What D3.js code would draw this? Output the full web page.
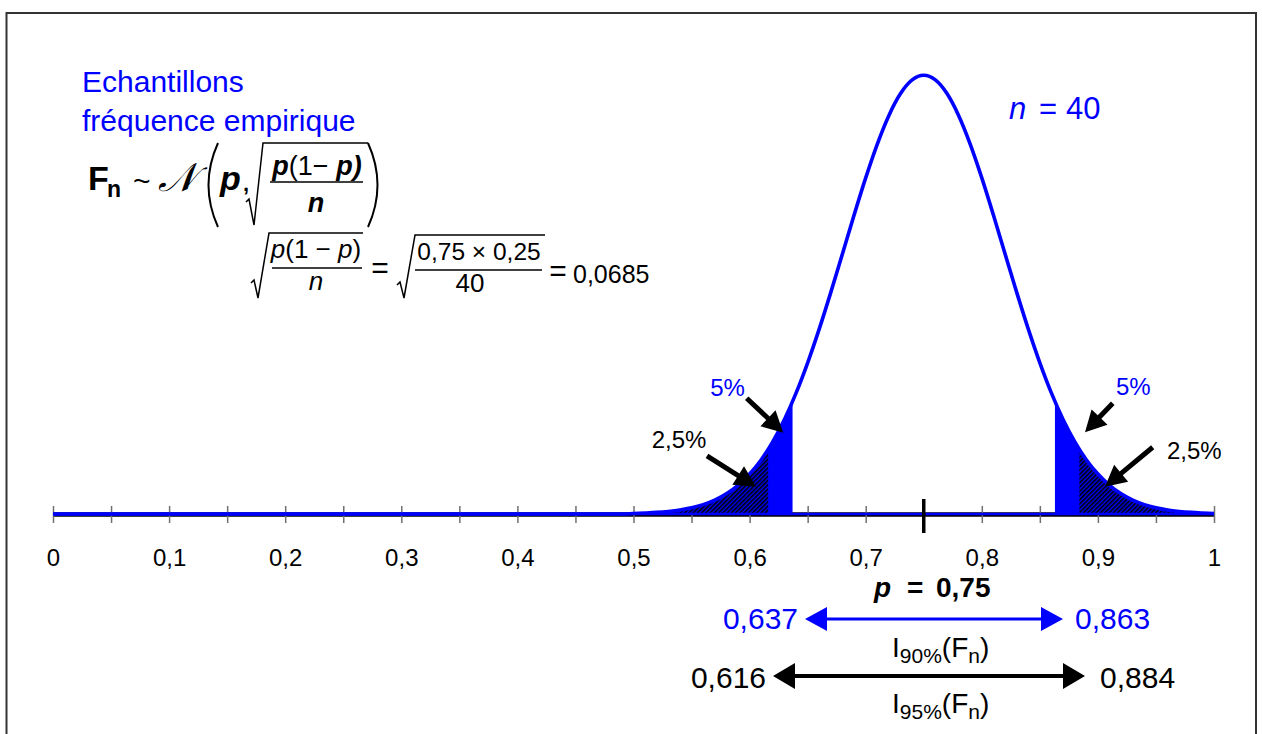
<!DOCTYPE html>
<html>
<head>
<meta charset="utf-8">
<script src="https://cdn.jsdelivr.net/npm/d3@7"></script>
<style>
  body { margin: 0; background: #fff; }
  text { font-family: "Liberation Sans", Arial, sans-serif; }
</style>
</head>
<body>
<div id="chart"></div>
<script>
// DATA

// density of F_n ~ N(0.75, 0.0685)
const curveX = [0, 0.49,
  0.50, 0.51, 0.52, 0.53, 0.54, 0.55, 0.56, 0.57, 0.58, 0.59,
  0.60, 0.61, 0.62, 0.63, 0.64, 0.65, 0.66, 0.67, 0.68, 0.69,
  0.70, 0.71, 0.72, 0.73, 0.74, 0.75, 0.76, 0.77, 0.78, 0.79,
  0.80, 0.81, 0.82, 0.83, 0.84, 0.85, 0.86, 0.87, 0.88, 0.89,
  0.90, 0.91, 0.92, 0.93, 0.94, 0.95, 0.96, 0.97, 0.98, 0.99, 1.00];
const density = [0, 0,
  0.007, 0.013, 0.021, 0.034, 0.053, 0.082, 0.124, 0.184, 0.268, 0.381,
  0.530, 0.721, 0.962, 1.255, 1.604, 2.007, 2.457, 2.945, 3.455, 3.969,
  4.462, 4.911, 5.291, 5.581, 5.762, 5.824, 5.762, 5.581, 5.291, 4.911,
  4.462, 3.969, 3.455, 2.945, 2.457, 2.007, 1.604, 1.255, 0.962, 0.721,
  0.530, 0.381, 0.268, 0.184, 0.124, 0.082, 0.053, 0.034, 0.021, 0.013, 0.007];

const pMean = 0.75;
const nSize = 40;
const minorTicks = [0, 0.05, 0.1, 0.15, 0.2, 0.25, 0.3, 0.35, 0.4, 0.45, 0.5,
  0.55, 0.6, 0.65, 0.7, 0.75, 0.8, 0.85, 0.9, 0.95, 1];
const majorTicks = [0, 0.1, 0.2, 0.3, 0.4, 0.5, 0.6, 0.7, 0.8, 0.9, 1];

// confidence intervals: [low, high]
const ci90 = [0.637, 0.863];
const ci95 = [0.616, 0.884];

// SETUP

var width = 1262;
var height = 734;
var blue = '#0000ff';
var baseY = 514;

var svg = d3.select('#chart')
  .append('svg')
    .attr('width', width)
    .attr('height', height);

// frame
svg.append('rect')
    .attr('x', 6.5)
    .attr('y', 13)
    .attr('width', 1249.5)
    .attr('height', 740)
    .style('fill', 'none')
    .style('stroke', '#333')
    .style('stroke-width', 2);

var x = d3.scaleLinear().domain([0, 1]).range([53, 1214]);
var y = d3.scaleLinear().domain([0, 6]).range([baseY, 62]);

var fmt = d3.formatLocale({decimal: ',', thousands: ' ', grouping: [3], currency: ['', '']}).format('~g');

// hatch pattern for 2,5% tails
var defs = svg.append('defs');
var pat = defs.append('pattern')
    .attr('id', 'hatch')
    .attr('patternUnits', 'userSpaceOnUse')
    .attr('width', 3)
    .attr('height', 3)
    .attr('patternTransform', 'rotate(45)');
pat.append('rect').attr('width', 3).attr('height', 3).style('fill', blue);
pat.append('line')
    .attr('x1', 0.8).attr('y1', 0).attr('x2', 0.8).attr('y2', 3)
    .style('stroke', '#000')
    .style('stroke-width', 1.6);

function addClip(id, ranges) {
  var cp = defs.append('clipPath').attr('id', id);
  ranges.forEach(function(r) {
    cp.append('rect')
        .attr('x', x(r[0]))
        .attr('y', 0)
        .attr('width', x(r[1]) - x(r[0]))
        .attr('height', baseY);
  });
}
addClip('clip90', [[0, ci90[0]], [ci90[1], 1]]);
addClip('clip95', [[0, ci95[0]], [ci95[1], 1]]);

var pts = curveX.map(function(d, i) { return [d, density[i]]; });

var area = d3.area()
    .x(function(d) { return x(d[0]); })
    .y0(y(0))
    .y1(function(d) { return y(d[1]); })
    .curve(d3.curveMonotoneX);

var line = d3.line()
    .x(function(d) { return x(d[0]); })
    .y(function(d) { return y(d[1]); })
    .curve(d3.curveMonotoneX);

// AXIS

var tickAxis = svg.append('g')
    .attr('transform', 'translate(0,' + baseY + ')')
    .call(d3.axisBottom(x).tickValues(minorTicks).tickSize(9).tickSizeOuter(0).tickFormat(''));
tickAxis.selectAll('.tick line')
    .attr('y1', -8)
    .attr('y2', 9)
    .style('stroke', '#707070')
    .style('stroke-width', 1.5);
tickAxis.select('.domain')
    .style('stroke', '#000')
    .style('stroke-width', 4.5);

var labelAxis = svg.append('g')
    .attr('transform', 'translate(0,' + baseY + ')')
    .call(d3.axisBottom(x).tickValues(majorTicks).tickSize(0).tickPadding(35).tickFormat(fmt));
labelAxis.select('.domain').remove();
labelAxis.selectAll('text')
    .style('font-family', '"Liberation Sans", Arial, sans-serif')
    .style('font-size', '24px')
    .style('fill', '#000');

// SHADED TAILS

svg.append('path')
    .datum(pts)
    .attr('d', area)
    .attr('clip-path', 'url(#clip90)')
    .style('fill', blue);

svg.append('path')
    .datum(pts)
    .attr('d', area)
    .attr('clip-path', 'url(#clip95)')
    .style('fill', 'url(#hatch)');

// zero line in blue along the axis
svg.append('line')
    .attr('x1', x(0)).attr('x2', x(1))
    .attr('y1', y(0)).attr('y2', y(0))
    .style('stroke', blue)
    .style('stroke-width', 2.5);

svg.append('path')
    .datum(pts)
    .attr('d', line)
    .style('fill', 'none')
    .style('stroke', blue)
    .style('stroke-width', 3.6);

// tick at p
svg.append('line')
    .attr('x1', x(pMean)).attr('x2', x(pMean))
    .attr('y1', baseY - 15).attr('y2', baseY + 19)
    .style('stroke', '#000')
    .style('stroke-width', 3.5);

// ARROWS

function arrowPath(x1, y1, x2, y2, sw, hl, hw) {
  var dx = x2 - x1, dy = y2 - y1;
  var len = Math.sqrt(dx * dx + dy * dy);
  var ux = dx / len, uy = dy / len, nx = -uy, ny = ux;
  var bx = x2 - ux * hl, by = y2 - uy * hl;
  var p = [
    [x1 + nx * sw / 2, y1 + ny * sw / 2],
    [bx + nx * sw / 2, by + ny * sw / 2],
    [bx + nx * hw, by + ny * hw],
    [x2, y2],
    [bx - nx * hw, by - ny * hw],
    [bx - nx * sw / 2, by - ny * sw / 2],
    [x1 - nx * sw / 2, y1 - ny * sw / 2]
  ];
  return 'M' + p.map(function(q) { return q.join(','); }).join('L') + 'Z';
}

function doubleArrow(xa, xb, yy, sw, hl, hw) {
  var p = [
    [xa, yy], [xa + hl, yy - hw], [xa + hl, yy - sw / 2], [xb - hl, yy - sw / 2],
    [xb - hl, yy - hw], [xb, yy], [xb - hl, yy + hw], [xb - hl, yy + sw / 2],
    [xa + hl, yy + sw / 2], [xa + hl, yy + hw]
  ];
  return 'M' + p.map(function(q) { return q.join(','); }).join('L') + 'Z';
}

// tail pointers: [from, to] in data units
var tailArrows = [
  {from: [0.5975, 1.537], to: [0.629, 1.08]},
  {from: [0.5633, 0.770], to: [0.6055, 0.3625]},
  {from: [0.9128, 1.470], to: [0.8889, 1.085]},
  {from: [0.9472, 0.886], to: [0.9061, 0.3625]}
];
svg.selectAll('.tailArrow')
  .data(tailArrows)
  .enter()
  .append('path')
    .attr('class', 'tailArrow')
    .attr('d', function(d) {
      return arrowPath(x(d.from[0]), y(d.from[1]), x(d.to[0]), y(d.to[1]), 5, 21, 11);
    })
    .style('fill', '#000');

var tailLabels = [
  {t: '5%', x: 0.566, y: 1.567, c: blue},
  {t: '2,5%', x: 0.5157, y: 0.876, c: '#000'},
  {t: '5%', x: 0.9156, y: 1.580, c: blue},
  {t: '2,5%', x: 0.9595, y: 0.730, c: '#000'}
];
svg.selectAll('.tailLabel')
  .data(tailLabels)
  .enter()
  .append('text')
    .attr('class', 'tailLabel')
    .attr('x', function(d) { return x(d.x); })
    .attr('y', function(d) { return y(d.y); })
    .style('font-size', '24px')
    .style('fill', function(d) { return d.c; })
    .text(function(d) { return d.t; });

// INTERVALS BELOW AXIS

svg.append('path')
    .attr('d', doubleArrow(805, 1063, 619, 3, 22, 12))
    .style('fill', blue);
svg.append('path')
    .attr('d', doubleArrow(773, 1085, 676, 4, 22, 13))
    .style('fill', '#000');

svg.append('text')
    .attr('x', 798).attr('y', 629)
    .attr('text-anchor', 'end')
    .style('font-size', '30px').style('fill', blue)
    .text(fmt(ci90[0]));
svg.append('text')
    .attr('x', 1075).attr('y', 629)
    .style('font-size', '30px').style('fill', blue)
    .text(fmt(ci90[1]));
svg.append('text')
    .attr('x', 766).attr('y', 688)
    .attr('text-anchor', 'end')
    .style('font-size', '30px').style('fill', '#000')
    .text(fmt(ci95[0]));
svg.append('text')
    .attr('x', 1100).attr('y', 688)
    .style('font-size', '30px').style('fill', '#000')
    .text(fmt(ci95[1]));

function intervalName(level, yy) {
  var t = svg.append('text')
      .attr('x', 892).attr('y', yy)
      .style('font-size', '28px');
  t.append('tspan').text('I');
  t.append('tspan').attr('dy', 6).style('font-size', '21px').text(level);
  t.append('tspan').attr('dy', -6).text('(F');
  t.append('tspan').attr('dy', 6).style('font-size', '21px').text('n');
  t.append('tspan').attr('dy', -6).text(')');
}
intervalName('90%', 657);
intervalName('95%', 713);

var pLabel = svg.append('text')
    .attr('y', 597)
    .style('font-size', '28px')
    .style('font-weight', 'bold');
pLabel.append('tspan').attr('x', 874).style('font-style', 'italic').text('p');
pLabel.append('tspan').attr('x', 907).text('=');
pLabel.append('tspan').attr('x', 936).text(fmt(pMean));

// n = 40
var nLabel = svg.append('text')
    .attr('y', 119)
    .style('font-size', '31px')
    .style('fill', blue);
nLabel.append('tspan').attr('x', 1009).style('font-style', 'italic').text('n');
nLabel.append('tspan').attr('x', 1039).text('=');
nLabel.append('tspan').attr('x', 1066).text(nSize);

// TITLE + FORMULAS

svg.append('text')
    .attr('x', 82).attr('y', 92)
    .style('font-size', '30px').style('fill', blue)
    .text('Echantillons');
svg.append('text')
    .attr('x', 82).attr('y', 131)
    .style('font-size', '30px').style('fill', blue)
    .text('fréquence empirique');

var f1 = svg.append('g');
f1.append('text').attr('x', 88).attr('y', 190)
    .style('font-size', '34px').style('font-weight', 'bold').text('F');
f1.append('text').attr('x', 107).attr('y', 197)
    .style('font-size', '23px').style('font-weight', 'bold').text('n');
f1.append('text').attr('x', 133).attr('y', 191)
    .style('font-size', '30px').text('~');
f1.append('text').attr('x', 158).attr('y', 191)
    .style('font-family', '"DejaVu Serif", serif')
    .style('font-size', '40px').style('font-style', 'italic').text('\u{1D4A9}');
f1.append('path').attr('d', 'M218,143 Q199,185 218,227')
    .style('fill', 'none').style('stroke', '#000').style('stroke-width', 2);
f1.append('path').attr('d', 'M368,143 Q387,185 368,227')
    .style('fill', 'none').style('stroke', '#000').style('stroke-width', 2);
f1.append('text').attr('x', 220).attr('y', 190)
    .style('font-size', '34px').style('font-weight', 'bold').style('font-style', 'italic').text('p');
f1.append('text').attr('x', 243).attr('y', 191)
    .style('font-size', '22px').style('font-weight', 'bold').text(',');
f1.append('path').attr('d', 'M246,202 L249,199 L254,225 L263,143 L368,143')
    .style('fill', 'none').style('stroke', '#000').style('stroke-width', 1.5);
var n1 = f1.append('text').attr('x', 317).attr('y', 175)
    .attr('text-anchor', 'middle').style('font-size', '27px');
n1.append('tspan').style('font-weight', 'bold').style('font-style', 'italic').text('p');
n1.append('tspan').text('(1\u2212 ');
n1.append('tspan').style('font-weight', 'bold').style('font-style', 'italic').text('p)');
f1.append('line').attr('x1', 270).attr('x2', 363).attr('y1', 182).attr('y2', 182)
    .style('stroke', '#000').style('stroke-width', 1.5);
f1.append('text').attr('x', 316).attr('y', 212)
    .attr('text-anchor', 'middle').style('font-size', '27px')
    .style('font-weight', 'bold').style('font-style', 'italic').text('n');

var f2 = svg.append('g');
f2.append('path').attr('d', 'M251,283 L254,280 L258,298 L269,233 L363,233')
    .style('fill', 'none').style('stroke', '#000').style('stroke-width', 1.5);
var n2 = f2.append('text').attr('x', 316).attr('y', 258)
    .attr('text-anchor', 'middle').style('font-size', '26px');
n2.append('tspan').style('font-style', 'italic').text('p');
n2.append('tspan').text('(1 \u2212 ');
n2.append('tspan').style('font-style', 'italic').text('p');
n2.append('tspan').text(')');
f2.append('line').attr('x1', 272).attr('x2', 362).attr('y1', 268).attr('y2', 268)
    .style('stroke', '#000').style('stroke-width', 1.5);
f2.append('text').attr('x', 316).attr('y', 290)
    .attr('text-anchor', 'middle').style('font-size', '26px')
    .style('font-style', 'italic').text('n');
f2.append('text').attr('x', 380).attr('y', 278)
    .attr('text-anchor', 'middle').style('font-size', '30px').text('=');
f2.append('path').attr('d', 'M397,285 L400,282 L404,298 L415,235 L545,235')
    .style('fill', 'none').style('stroke', '#000').style('stroke-width', 1.5);
f2.append('text').attr('x', 479).attr('y', 260)
    .attr('text-anchor', 'middle').style('font-size', '24.5px').text('0,75 \u00d7 0,25');
f2.append('line').attr('x1', 415).attr('x2', 542).attr('y1', 270).attr('y2', 270)
    .style('stroke', '#000').style('stroke-width', 1.5);
f2.append('text').attr('x', 470).attr('y', 292)
    .attr('text-anchor', 'middle').style('font-size', '26px').text('40');
f2.append('text').attr('x', 558).attr('y', 281)
    .attr('text-anchor', 'middle').style('font-size', '30px').text('=');
f2.append('text').attr('x', 573).attr('y', 283)
    .style('font-size', '25px').text('0,0685');
</script>
</body>
</html>
